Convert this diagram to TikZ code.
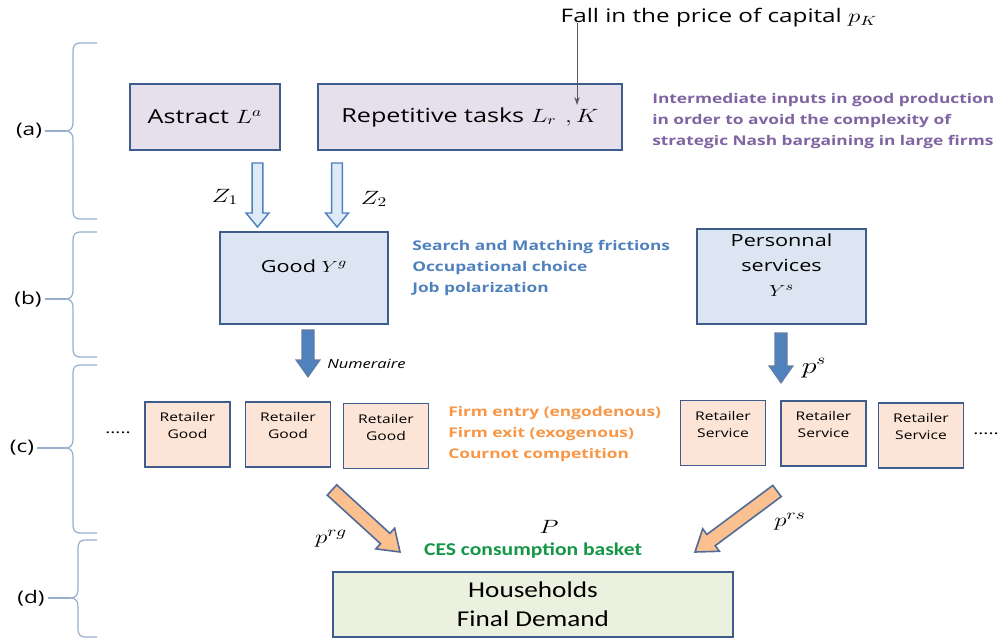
\documentclass[tikz,border=0pt]{standalone}
\usepackage{fontspec}
\usepackage{graphicx}
\setmainfont{Open Sans}[FakeStretch=1.3]
\newfontfamily\calib{Carlito}[FakeStretch=1.2]
\usetikzlibrary{calc,arrows.meta}
\newcommand{\mth}[1]{\scalebox{1.3}[1]{$#1$}}
\definecolor{bdr}{RGB}{62,92,140}
\definecolor{lav}{RGB}{229,224,236}
\definecolor{lblue}{RGB}{220,230,242}
\definecolor{peach}{RGB}{252,228,214}
\definecolor{lgreen}{RGB}{235,241,222}
\definecolor{brc}{RGB}{150,175,205}
\definecolor{purp}{RGB}{128,100,162}
\definecolor{blu}{RGB}{79,129,189}
\definecolor{orng}{RGB}{247,150,70}
\definecolor{grn}{RGB}{20,150,70}
\definecolor{zfill}{RGB}{222,235,247}
\definecolor{darrow}{RGB}{250,192,144}
\newcommand{\blockarr}[6]{%
  \path (#3) coordinate (ba-tip) ($(#3)!#6!(#2)$) coordinate (ba-hb);
  \draw[#1] ($(#2)!#4!90:(#3)$) -- ($(ba-hb)!#4!90:(#3)$) -- ($(ba-hb)!#5!90:(#3)$)
    -- (ba-tip) -- ($(ba-hb)!#5!-90:(#3)$) -- ($(ba-hb)!#4!-90:(#3)$)
    -- ($(#2)!#4!-90:(#3)$) -- cycle;}
\newcommand{\mybrace}[6]{% #1 name, #2 x, #3 top, #4 mid, #5 bottom, #6 label x
  \pgfmathsetmacro{\ta}{#3+8}\pgfmathsetmacro{\tb}{#3+3}
  \pgfmathsetmacro{\ma}{#4-8}\pgfmathsetmacro{\mb}{#4-3}
  \pgfmathsetmacro{\mc}{#4+3}\pgfmathsetmacro{\md}{#4+8}
  \pgfmathsetmacro{\ba}{#5-8}\pgfmathsetmacro{\bb}{#5-3}
  \pgfmathsetmacro{\xa}{#2+7}\pgfmathsetmacro{\xb}{#2+2}
  \pgfmathsetmacro{\xt}{#2-7}\pgfmathsetmacro{\xc}{#2-3}
  \coordinate (#1-tip) at (\xt,#4);
  \draw[bracestyle] (97,#3) -- (\xa,#3) .. controls (\xb,#3) and (#2,\tb) .. (#2,\ta)
    -- (#2,\ma) .. controls (#2,\mb) and (\xc,#4) .. (\xt,#4)
    .. controls (\xc,#4) and (#2,\mc) .. (#2,\md)
    -- (#2,\ba) .. controls (#2,\bb) and (\xb,#5) .. (\xa,#5) -- (97,#5);
  \node[lvl] (#1) at (#6,#4) {(#1)};
  \draw[bracestyle] (#1.east) ++(2pt,0) -- (#1-tip);}
\begin{document}
\begin{tikzpicture}[x=0.75pt,y=-0.75pt,
  box/.style={draw=bdr,line width=1.6pt,inner sep=0pt},
  bigtxt/.style={font=\fontsize{14.5}{18}\selectfont},
  midtxt/.style={font=\fontsize{12.5}{18.75}\selectfont},
  rtxt/.style={font=\fontsize{9}{12.75}\selectfont,align=center,inner sep=0pt},
  note/.style={font=\bfseries\fontsize{10}{16}\selectfont,align=left,anchor=west,inner sep=0pt},
  bracestyle/.style={draw=brc,line width=0.9pt},
  lvl/.style={font=\fontsize{13}{15}\selectfont,inner sep=0pt},
  mlab/.style={font=\fontsize{14}{16}\selectfont,inner sep=0pt},
  zarr/.style={fill=zfill,draw=blu,line width=1.1pt,line join=miter},
  narr/.style={fill=blu,draw=bdr!80,line width=0.8pt},
  darr/.style={fill=darrow,draw=bdr!90,line width=1.2pt,line join=miter},
  thinarr/.style={draw=black!65,line width=0.7pt,-{Stealth[length=6pt,width=4pt]}}]
\useasboundingbox (0,0) rectangle (1002,641);
% braces
\mybrace{a}{73}{43}{131}{219}{29}
\mybrace{b}{73}{232}{299}{357}{28}
\mybrace{c}{73}{365}{448}{533}{22}
\mybrace{d}{78}{540}{598}{637}{31}
% level (a)
\node[box,fill=lav,minimum width=112.5pt,minimum height=49.5pt,bigtxt] (astract) at (205,117) {Astract \mth{L^{a}}};
\node[box,fill=lav,minimum width=228pt,minimum height=49.5pt,bigtxt] (repet) at (470,117) {Repetitive tasks \mth{L_{r}\ ,K}};
\node[font=\fontsize{14}{16}\selectfont,inner sep=0pt] (fall) at (719,18) {Fall in the price of capital \mth{p_K}};
\coordinate (kpt) at (577,105);
\draw[thinarr] (fall.south -| kpt) ++(0,-5) -- (kpt);
\node[note,text=purp] (inter) at (652,121) {Intermediate inputs in good production\\in order to avoid the complexity of\\strategic Nash bargaining in large firms};
% level (b)
\node[box,fill=lblue,minimum width=126pt,minimum height=69pt,
  label={[midtxt,inner sep=0pt,yshift=9pt]center:Good \mth{Y^{g}}}] (good) at (304,278) {};
\node[box,fill=lblue,minimum width=126.75pt,minimum height=71.25pt,
  label={[midtxt,align=center,inner sep=0pt,yshift=8.6pt]center:Personnal\\services\\\mth{Y^{s}}}] (pers) at (781.5,276.5) {};
\node[note,text=blu] (search) at (412,268) {Search and Matching frictions\\Occupational choice\\Job polarization};
\coordinate (z1a) at (257.5,163); \coordinate (z1b) at (257.5,227);
\coordinate (z2a) at (337,163); \coordinate (z2b) at (337,227);
\blockarr{zarr}{z1a}{z1b}{4.1pt}{8.6pt}{10.5pt}
\blockarr{zarr}{z2a}{z2b}{4.1pt}{8.6pt}{10.5pt}
\node[mlab] (z1) at (225,197) {\mth{Z_1}};
\node[mlab] (z2) at (374,199) {\mth{Z_2}};
% level (c)
\coordinate (na) at (308,330); \coordinate (nb) at (308,377);
\blockarr{narr}{na}{nb}{4.5pt}{9pt}{12.75pt}
\node[font=\itshape\fontsize{9.5}{11}\selectfont,anchor=west,inner sep=0pt] (numer) at (327,364) {Numeraire};
\coordinate (psa) at (781,333); \coordinate (psb) at (781,383);
\blockarr{narr}{psa}{psb}{4.5pt}{9pt}{12.75pt}
\node[font=\fontsize{16}{19}\selectfont,inner sep=0pt] (ps) at (814,368) {\mth{p^{s}}};
\foreach \n/\x/\y in {g1/187.5/434.5, g2/288/434.5, g3/386/436}{
  \node[box,fill=peach,minimum width=63.75pt,minimum height=48.75pt,line width=1.4pt,
    label={[rtxt,yshift=6.5pt]center:Retailer\\Good}] (\n) at (\x,\y) {};}
\foreach \n/\x/\y in {s1/723/433, s2/823.5/433.5, s3/921/435.5}{
  \node[box,fill=peach,minimum width=63.75pt,minimum height=48.75pt,line width=1.4pt,
    label={[rtxt,yshift=6.5pt]center:Retailer\\Service}] (\n) at (\x,\y) {};}
\node[font=\fontsize{11}{12}\selectfont,inner sep=0pt] (dl) at (118,433) {.....};
\node[font=\fontsize{11}{12}\selectfont,inner sep=0pt] (dr) at (986,434) {.....};
\node[note,text=orng] (firm) at (448,434) {Firm entry (engodenous)\\Firm exit (exogenous)\\Cournot competition};
% level (d)
\node[box,fill=lgreen,minimum width=300pt,minimum height=48.75pt,align=center,
  font=\calib\fontsize{17}{21.5}\selectfont] (hh) at (533,604.5) {Households\\Final Demand};
\node[font=\calib\bfseries\fontsize{13.5}{16}\selectfont,text=grn,inner sep=0pt] (ces) at (533,551) {CES consumption basket};
\node[mlab] (P) at (549,527) {\mth{P}};
\coordinate (la) at (332,490); \coordinate (lb) at (400,552);
\coordinate (ra) at (777,491); \coordinate (rb) at (695,552);
\blockarr{darr}{la}{lb}{5.25pt}{10.5pt}{15pt}
\blockarr{darr}{ra}{rb}{5.25pt}{10.5pt}{15pt}
\node[font=\fontsize{15}{18}\selectfont,inner sep=0pt] (prg) at (331,539) {\mth{p^{rg}}};
\node[font=\fontsize{15}{18}\selectfont,inner sep=0pt] (prs) at (790,522) {\mth{p^{rs}}};
\end{tikzpicture}
\end{document}
